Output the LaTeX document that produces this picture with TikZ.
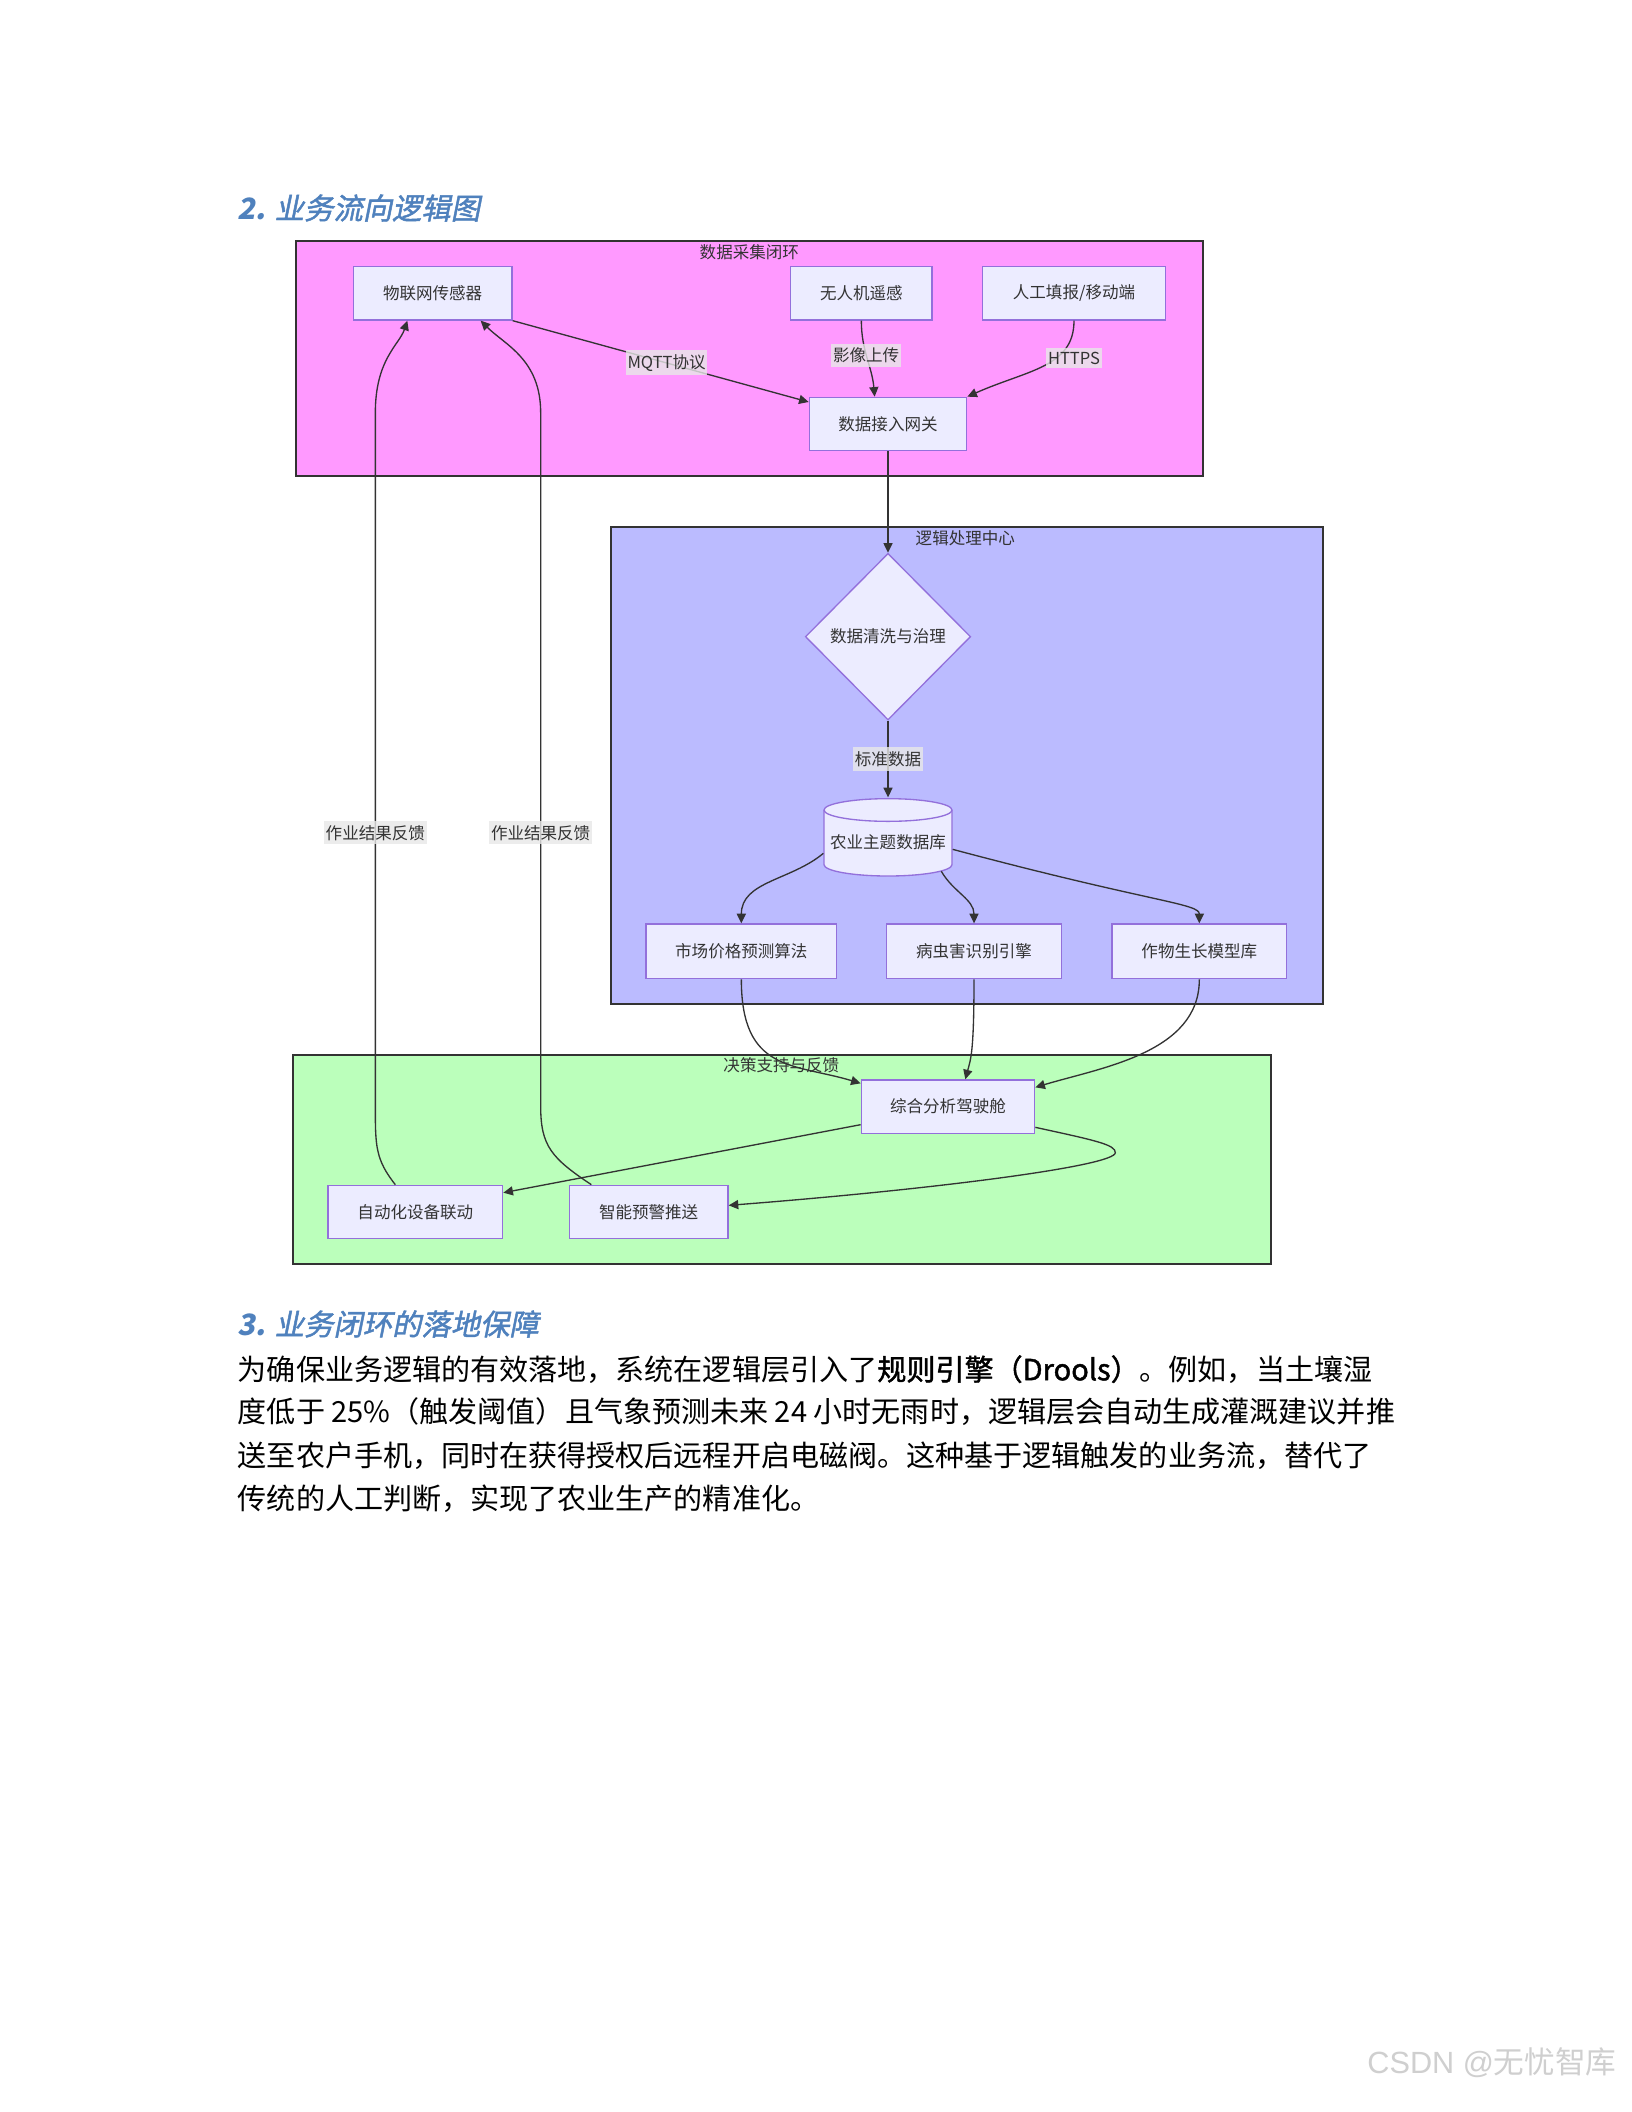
\documentclass[tikz,border=0pt]{standalone}
\usepackage{fontspec}
\setmainfont{Noto Sans CJK SC}
\newfontfamily\cjk{Noto Sans CJK SC}
\newfontfamily\hfont[FakeSlant=0.2,FakeBold=1.6]{Noto Sans CJK SC}
\newfontfamily\hnum[FakeSlant=0.2]{Noto Sans CJK SC}
\newfontfamily\fbfont[FakeBold=1.5]{Noto Sans CJK SC}
\newfontfamily\wmfont{Liberation Sans}
\usetikzlibrary{shapes.geometric,arrows.meta,calc}
\definecolor{nodefill}{HTML}{ECECFF}
\definecolor{nodeborder}{HTML}{9370DB}
\definecolor{textc}{HTML}{333333}
\definecolor{edgec}{HTML}{333333}
\definecolor{lblfill}{HTML}{E8E8E8}
\definecolor{clA}{HTML}{FF99FF}
\definecolor{clB}{HTML}{BBBBFF}
\definecolor{clC}{HTML}{BBFFBB}
\definecolor{clborder}{HTML}{333333}
\definecolor{headc}{HTML}{4F81BD}
\definecolor{wmc}{HTML}{CFCFCF}
\begin{document}
\begin{tikzpicture}[x=0.5pt,y=-0.5pt,
  box/.style={draw=nodeborder, fill=nodefill, line width=0.5pt, inner sep=0pt,
    font=\fontsize{6.2}{7}\selectfont, text=textc},
  cluster/.style={draw=clborder, line width=0.75pt},
  cltitle/.style={font=\fontsize{6.2}{7}\selectfont, text=textc, inner sep=0pt},
  lbl/.style={fill=lblfill, fill opacity=0.8, text opacity=1, text=textc,
    inner xsep=0.6pt, inner ysep=1.5pt, font=\fontsize{6.2}{7}\selectfont},
  arr/.style={draw=edgec, line width=0.5pt, -{Triangle[length=3.6pt,width=3.4pt]}},
  heading/.style={font=\hfont\fontsize{11}{13}\selectfont, text=headc, inner sep=0pt, anchor=west},
  para/.style={font=\fontsize{10.9}{13}\selectfont, text=black, inner sep=0pt, anchor=west}
]
\fill[white] (0,0) rectangle (1224,1584);
\useasboundingbox (0,0) rectangle (1224,1584);

% headings
\node[heading] (h2) at (178,156) {{\hnum\bfseries 2.} 业务流向逻辑图};

% clusters
\filldraw[cluster, fill=clA] (222,181) rectangle (902,357);
\filldraw[cluster, fill=clB] (458,395) rectangle (992,753);
\filldraw[cluster, fill=clC] (220,791) rectangle (953,948);
\node[cltitle] (tA) at (562,189) {数据采集闭环};
\node[cltitle] (tB) at (724,404) {逻辑处理中心};
\node[cltitle] (tC) at (586,799) {决策支持与反馈};

% top nodes
\node[box, minimum width=59.5pt, minimum height=20pt] (iot) at (324.5,220) {物联网传感器};
\node[box, minimum width=53pt, minimum height=20pt] (uav) at (646,220) {无人机遥感};
\node[box, minimum width=68.5pt, minimum height=20pt] (man) at (805.5,220) {人工填报/移动端};
\node[box, minimum width=59pt, minimum height=20pt] (gw) at (666,318) {数据接入网关};

% middle nodes
\node[box, diamond, minimum width=62pt, minimum height=62.5pt] (clean) at (666,477.5) {数据清洗与治理};
\coordinate (dbc) at (666,632);
\filldraw[draw=nodeborder, fill=nodefill, line width=0.5pt]
  ($(dbc)+(-48,-24.5)$) -- ($(dbc)+(-48,16.5)$)
  arc[start angle=180, end angle=360, x radius=24pt, y radius=4.25pt]
  -- ($(dbc)+(48,-24.5)$)
  arc[start angle=0, end angle=180, x radius=24pt, y radius=4.25pt] -- cycle;
\draw[draw=nodeborder, line width=0.5pt] ($(dbc)+(-48,-24.5)$)
  arc[start angle=180, end angle=360, x radius=24pt, y radius=4.25pt];
\node[box, draw=none, fill=none, minimum width=48pt, minimum height=25pt] (db) at (dbc) {农业主题数据库};
\node[box, minimum width=71.5pt, minimum height=20.5pt] (mkt) at (556,713.5) {市场价格预测算法};
\node[box, minimum width=65.5pt, minimum height=20.5pt] (pest) at (730.5,713.5) {病虫害识别引擎};
\node[box, minimum width=65.5pt, minimum height=20.5pt] (crop) at (899.5,713.5) {作物生长模型库};

% bottom nodes
\node[box, minimum width=65pt, minimum height=20pt] (cockpit) at (711,830) {综合分析驾驶舱};
\node[box, minimum width=65.5pt, minimum height=20pt] (auto) at (311.5,909) {自动化设备联动};
\node[box, minimum width=59.5pt, minimum height=20pt] (alert) at (486.5,909) {智能预警推送};

% edges top
\draw[arr] (iot.south east) -- node[lbl,pos=0.52]{MQTT协议} ($(gw.north west)+(0,4)$);
\draw[arr] (uav.south) to[out=-90,in=95] node[lbl,pos=0.45]{影像上传} ($(gw.north)+(-10,0)$);
\draw[arr] (man.south) .. controls +(0,35) and +(45,-20) .. (gw.north east);
\node[lbl] (lhttps) at ($(man.south)+(0,28)$) {HTTPS};
\draw[arr] (gw.south) -- (clean.north);

% edges middle
\draw[arr] (clean.south) -- node[lbl]{标准数据} ($(db.north)+(0,-8.5)$);
\draw[arr] ($(db.west)+(0,8)$) to[out=-140,in=90] (mkt.north);
\draw[arr] ($(db.south)+(40,-4)$) to[out=-60,in=90] (pest.north);
\draw[arr] ($(db.east)+(0,5)$) .. controls +(150,40) and +(0,-15) .. (crop.north);

% to cockpit
\draw[arr] (mkt.south) .. controls +(0,70) and +(-50,-15) .. ($(cockpit.north west)+(0,3)$);
\draw[arr] (pest.south) .. controls +(0,55) and +(4,-15) .. ($(cockpit.north)+(13,0)$);
\draw[arr] (crop.south) .. controls +(0,55) and +(50,-15) .. ($(cockpit.north east)+(0,6)$);

% bottom
\draw[arr] ($(cockpit.south west)+(0,-7)$) -- ($(auto.north east)+(0,6)$);
\draw[arr] ($(cockpit.south east)+(0,-5)$) .. controls +(46,10) and +(0,-6) .. ++(60,19)
  .. controls +(0,10) and +(154,-12) .. ($(alert.east)+(0,-5)$);

% feedback
\draw[arr] ($(auto.north)+(-15,0)$) .. controls +(-15,-19) and +(0,30) .. ++(-15,-59)
  -- node[lbl,pos=0.394]{作业结果反馈} ++(0,-520)
  .. controls +(0,-40) and +(-6,18) .. ($(iot.south)+(-19,0)$);
\draw[arr] ($(alert.north west)+(17,0)$) .. controls +(-30,-20) and +(0,30) .. ++(-38,-59)
  -- node[lbl,pos=0.394]{作业结果反馈} ++(0,-520)
  .. controls +(0,-40) and +(18,18) .. ($(iot.south east)+(-24,0)$);

% text section
\node[heading] (h3) at (178,993) {{\hnum\bfseries 3.} 业务闭环的落地保障};
\node[para] (p1) at (178,1027) {为确保业务逻辑的有效落地，系统在逻辑层引入了{\fbfont 规则引擎（Drools）}。例如，当土壤湿};
\node[para] (p2) at (178,1059) {度低于 25\%（触发阈值）且气象预测未来 24 小时无雨时，逻辑层会自动生成灌溉建议并推};
\node[para] (p3) at (178,1092) {送至农户手机，同时在获得授权后远程开启电磁阀。这种基于逻辑触发的业务流，替代了};
\node[para] (p4) at (178,1124) {传统的人工判断，实现了农业生产的精准化。};

% watermark
\node[text=wmc, inner sep=0pt, font=\fontsize{11.5}{13}\selectfont] (wm) at (1119,1547) {{\wmfont CSDN @}{\cjk 无忧智库}};
\end{tikzpicture}
\end{document}
